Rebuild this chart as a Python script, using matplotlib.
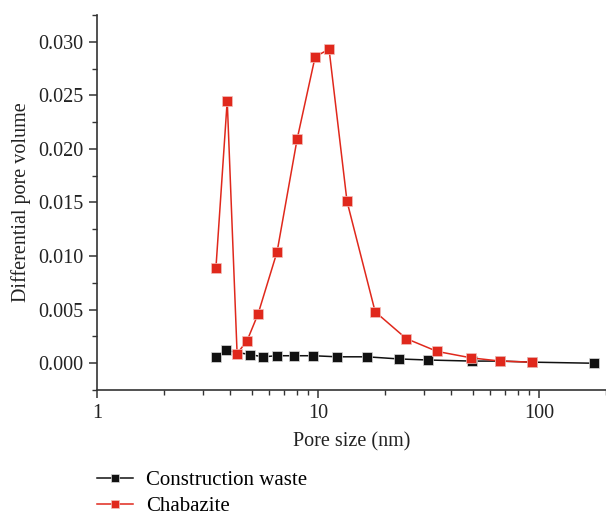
import matplotlib
matplotlib.use("Agg")
import matplotlib.pyplot as plt
from matplotlib.ticker import MultipleLocator, LogLocator, NullFormatter, FixedLocator

plt.rcParams['font.family'] = ['Liberation Serif', 'DejaVu Serif']

cw_x = [3.45, 3.83, 4.93, 5.64, 6.52, 7.78, 9.49, 12.2, 16.6, 23.2, 31.5, 49.7, 66.6, 93.0, 176.0]
cw_y = [0.0006, 0.0012, 0.0008, 0.0006, 0.0007, 0.0007, 0.0007, 0.0006, 0.0006, 0.0004, 0.0003, 0.0002, 0.0002, 0.0001, 0.0000]

ch_x = [3.45, 3.88, 4.30, 4.77, 5.35, 6.52, 8.03, 9.69, 11.2, 13.5, 18.1, 25.0, 34.5, 49.2, 66.6, 93.0]
ch_y = [0.0089, 0.0245, 0.0009, 0.0021, 0.0046, 0.0104, 0.0209, 0.0286, 0.0293, 0.0151,
        0.0048, 0.0023, 0.0011, 0.0005, 0.0002, 0.0001]

fig = plt.figure(figsize=(6.06, 5.17), dpi=100)
ax = fig.add_axes([0.160, 0.2456, 0.84, 0.7255])

l1, = ax.plot(cw_x, cw_y, color='#111111', lw=1.1, marker='s', ms=7.2,
              mfc='#111111', mec='#dddddd', mew=0.5, label='Construction waste')
l2, = ax.plot(ch_x, ch_y, color='#e0281c', lw=1.1, marker='s', ms=7.2,
              mfc='#e0281c', mec='#f3c0bb', mew=0.5, label='Chabazite')

ax.set_xscale('log')
ax.set_xlim(1, 200)
ax.set_ylim(-0.0025, 0.0325)
ax.yaxis.set_major_locator(FixedLocator([0, 0.005, 0.01, 0.015, 0.02, 0.025, 0.03]))
ax.yaxis.set_minor_locator(MultipleLocator(0.0025))
ax.set_yticklabels(['0.000', '0.005', '0.010', '0.015', '0.020', '0.025', '0.030'])
ax.xaxis.set_major_locator(FixedLocator([1, 10, 100]))
ax.set_xticklabels(['1', '10', '100'])
ax.xaxis.set_minor_locator(LogLocator(base=10, subs=range(2, 10)))
ax.xaxis.set_minor_formatter(NullFormatter())

for s in ['top', 'right']:
    ax.spines[s].set_visible(False)
for s in ['left', 'bottom']:
    ax.spines[s].set_linewidth(1.2)
    ax.spines[s].set_color('#333333')

ax.tick_params(which='major', direction='out', length=6, width=1.1, labelsize=14.5,
               colors='#333333', labelcolor='#222222', pad=4)
ax.tick_params(which='minor', direction='out', length=3.5, width=1.0, colors='#333333')

ax.set_xlabel('Pore size (nm)', fontsize=14.5, color='#222222', labelpad=7)
ax.set_ylabel('Differential pore volume', fontsize=14.5, color='#222222', labelpad=5)

fig.legend(handles=[l1, l2], loc='upper left', bbox_to_anchor=(0.16, 0.09),
           frameon=False, fontsize=15, handlelength=1.75, handletextpad=0.6,
           markerscale=0.75, labelspacing=0.3, borderaxespad=0, borderpad=0)

fig.savefig('out.png', dpi=100)
